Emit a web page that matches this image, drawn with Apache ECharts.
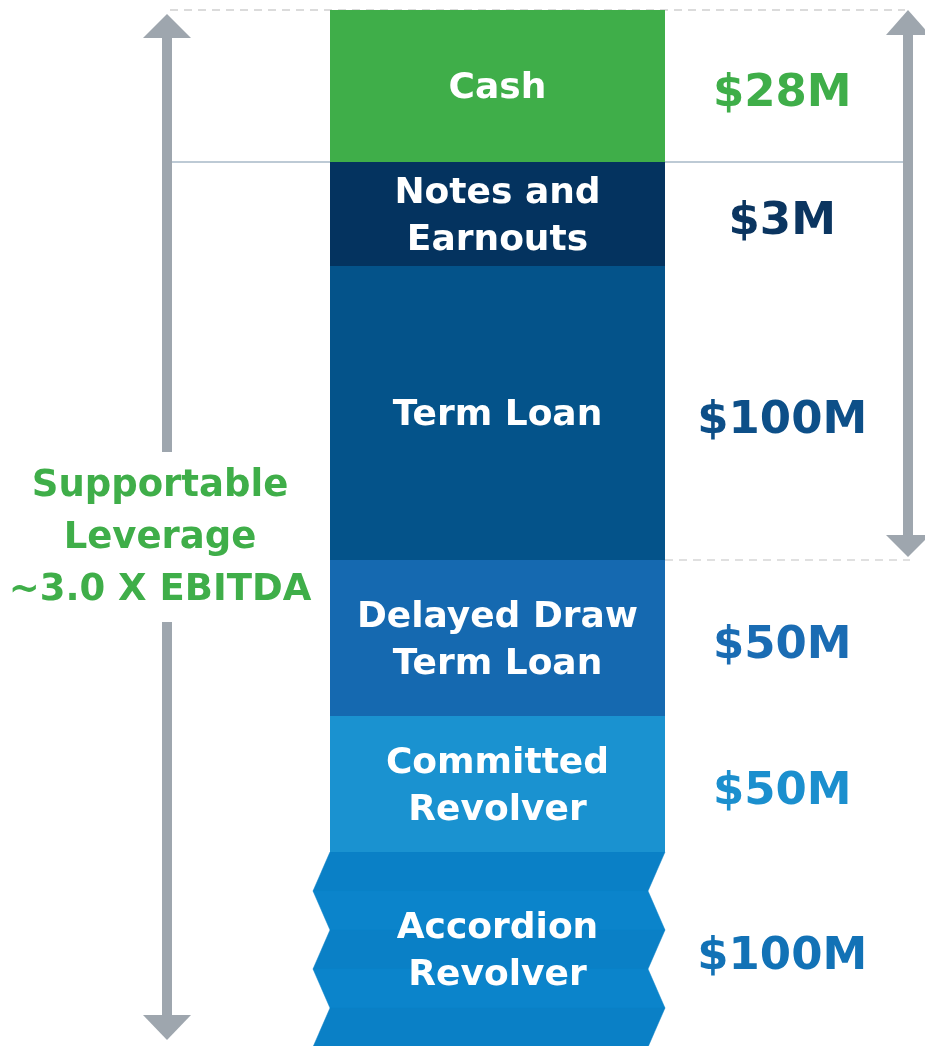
<!DOCTYPE html>
<html>
<head>
<meta charset="utf-8">
<script src="https://cdn.jsdelivr.net/npm/echarts@6/dist/echarts.min.js"></script>
<style>
  html, body { margin: 0; padding: 0; background: #fff; }
  #main { width: 925px; height: 1046px; }
</style>
</head>
<body>
<div id="main"></div>
<script>
  // tranches top to bottom
  var tranches = ['Cash', 'Notes and\nEarnouts', 'Term Loan', 'Delayed Draw\nTerm Loan', 'Committed\nRevolver', 'Accordion\nRevolver'];
  var amounts = [28, 3, 100, 50, 50, 100]; // $M
  // drawn size of each block (the picture is not to scale with the amounts)
  var blockHeights = [152, 104, 294, 156, 136, 194];
  var blockColors = ['#3fae49', '#04335f', '#04538a', '#1569b0', '#1a92d0', '#0b84cb'];
  var amountColors = ['#3fae49', '#0b3560', '#0d4f88', '#1a6cb3', '#1b8fce', '#1272b6'];
  var leverageText = 'Supportable\nLeverage\n~3.0 X EBITDA';

  var FONT = 'DejaVu Sans';
  var GREY = '#9ea6ae';
  var last = tranches.length - 1;

  var total = 0, starts = [];
  blockHeights.forEach(function (h) { starts.push(total); total += h; });

  var chart = echarts.init(document.getElementById('main'));

  var series = [];
  tranches.forEach(function (name, i) {
    // the block itself, name inside
    series.push({
      type: 'bar',
      name: name,
      stack: 'blocks',
      barWidth: '100%',
      barGap: '-100%',
      z: 3,
      data: [blockHeights[i]],
      itemStyle: { color: i === last ? 'transparent' : blockColors[i] },
      label: {
        show: true,
        position: 'inside',
        offset: [0, 3],
        formatter: name,
        color: '#fff',
        fontFamily: FONT,
        fontWeight: 'bold',
        fontSize: 36,
        lineHeight: 47
      },
      silent: true
    });
    // invisible twin that carries the amount on the right
    series.push({
      type: 'bar',
      stack: 'amounts',
      barWidth: '100%',
      barGap: '-100%',
      z: 3,
      data: [blockHeights[i]],
      itemStyle: { color: 'transparent' },
      label: {
        show: true,
        position: ['135%', '50%'],
        offset: [0, 8],
        align: 'center',
        verticalAlign: 'middle',
        formatter: '$' + amounts[i] + 'M',
        color: amountColors[i],
        fontFamily: FONT,
        fontWeight: 'bold',
        fontSize: 45
      },
      silent: true
    });
  });

  // accordion block drawn as folded zig-zag
  function renderAccordion(params, api) {
    var top = api.coord([api.value(0), api.value(1)]);
    var bottom = api.coord([api.value(0), api.value(2)]);
    var bw = api.size([1, 0])[0];
    var left = top[0] - bw / 2, right = top[0] + bw / 2;
    var fold = 39, jut = 17;
    function shift(y) {
      var t = (y - top[1]) / fold, n = Math.floor(t), f = t - n;
      return n % 2 === 0 ? f * jut : (1 - f) * jut;
    }
    var ys = [];
    for (var y = top[1]; y < bottom[1] - 1; y += fold) ys.push(y);
    ys.push(bottom[1]);
    var children = [];
    for (var k = 0; k < ys.length - 1; k++) {
      var y0 = ys[k], y1 = ys[k + 1];
      var c = k % 2 === 0 ? '#0a80c6' : blockColors[last];
      children.push({
        type: 'polygon',
        shape: { points: [
          [left - shift(y0), y0], [left - shift(y1), y1],
          [right - shift(y1), y1], [right - shift(y0), y0]
        ] },
        style: { fill: c, stroke: c, lineWidth: 0.5 }
      });
    }
    return { type: 'group', children: children };
  }

  series.push({
    type: 'custom',
    z: 2,
    clip: false,
    silent: true,
    renderItem: renderAccordion,
    encode: { x: 0, y: [1, 2] },
    data: [[0, starts[last], total]]
  });

  chart.setOption({
    animation: false,
    backgroundColor: '#fff',
    grid: { left: 330, right: 260, top: 10, bottom: 0 },
    xAxis: {
      type: 'category',
      data: ['Capital'],
      show: false
    },
    yAxis: {
      type: 'value',
      inverse: true,
      min: 0,
      max: total,
      show: false
    },
    series: series
  });

  // annotations tied to the same scale
  function px(v) { return chart.convertToPixel({ gridIndex: 0 }, [0, v]); }
  var topPt = px(0);
  var yTop = topPt[1];
  var yCashEnd = px(blockHeights[0])[1];
  var yTermEnd = px(starts[3])[1];
  var yEnd = px(total)[1];
  var barRight = topPt[0] + 335 / 2;

  var lx = 167, rx = 908, txtY = 538;

  function arrowUp(x, tipY, headW, headH) {
    return { type: 'polygon', shape: { points: [[x, tipY], [x - headW / 2, tipY + headH], [x + headW / 2, tipY + headH]] }, style: { fill: GREY } };
  }
  function arrowDown(x, tipY, headW, headH) {
    return { type: 'polygon', shape: { points: [[x, tipY], [x - headW / 2, tipY - headH], [x + headW / 2, tipY - headH]] }, style: { fill: GREY } };
  }
  function shaft(x, y0, y1) {
    return { type: 'rect', shape: { x: x - 5, y: y0, width: 10, height: y1 - y0 }, style: { fill: GREY } };
  }

  chart.setOption({
    graphic: [
      { type: 'line', z: 0, shape: { x1: 170, y1: yTop, x2: 905, y2: yTop }, style: { stroke: '#d0d0d0', lineWidth: 1.5, lineDash: [8, 6] } },
      { type: 'line', z: 0, shape: { x1: 172, y1: yCashEnd, x2: 905, y2: yCashEnd }, style: { stroke: '#a7b8c7', lineWidth: 1.5 } },
      { type: 'line', z: 0, shape: { x1: barRight, y1: yTermEnd, x2: 910, y2: yTermEnd }, style: { stroke: '#d6d6d6', lineWidth: 1.5, lineDash: [8, 6] } },
      // left arrow
      arrowUp(lx, yTop + 4, 48, 24),
      shaft(lx, yTop + 27, txtY - 86),
      shaft(lx, txtY + 84, yEnd - 30),
      arrowDown(lx, yEnd - 6, 48, 25),
      // right arrow
      arrowUp(rx, yTop, 44, 25),
      shaft(rx, yTop + 24, yTermEnd - 22),
      arrowDown(rx, yTermEnd - 3, 44, 22),
      {
        type: 'text',
        x: 160,
        y: txtY,
        style: {
          text: leverageText,
          fill: '#3fae49',
          font: 'bold 37px "' + FONT + '"',
          lineHeight: 52,
          align: 'center',
          verticalAlign: 'middle'
        }
      }
    ]
  });
</script>
</body>
</html>
